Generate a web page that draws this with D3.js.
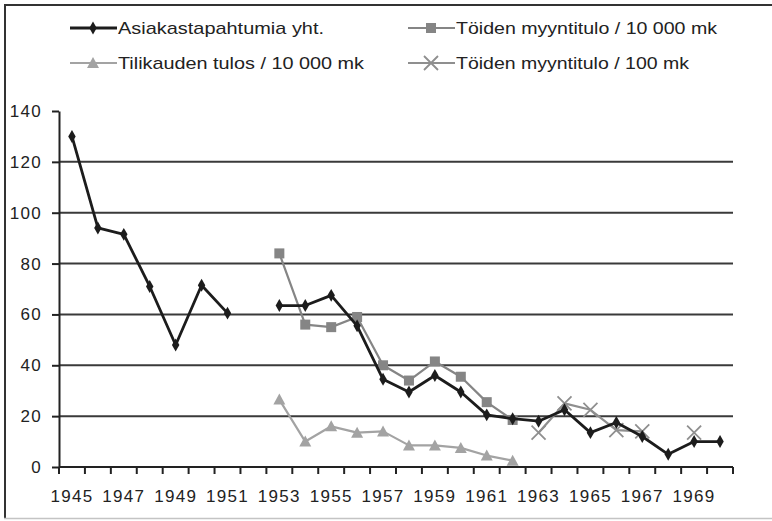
<!DOCTYPE html>
<html>
<head>
<meta charset="utf-8">
<script src="https://cdn.jsdelivr.net/npm/d3@7"></script>
<style>
    body { margin: 0; background: #ffffff; }
    svg { display: block; font-family: "Liberation Sans", Arial, sans-serif; }
</style>
</head>
<body>
<script>
/* ========================== Data ========================= */
var years = d3.range(1945, 1971);
var yearLabels = ["1945", "1947", "1949", "1951", "1953", "1955", "1957", "1959", "1961", "1963", "1965", "1967", "1969"];
var yTicks = [0, 20, 40, 60, 80, 100, 120, 140];

// one value per year, null = no value that year
var asiakastapahtumia = [130, 94, 91.5, 71, 48, 71.5, 60.5, null, 63.5, 63.5, 67.5, 55.5, 34.5, 29.5, 36, 29.5,
    20.5, 19, 18, 22.5, 13.5, 17.5, 12, 5, 10, 10];
var myyntitulo10000 = [null, null, null, null, null, null, null, null, 84, 56, 55, 59, 40, 34, 41.5, 35.5,
    25.5, 18.5, null, null, null, null, null, null, null, null];
var tilikaudenTulos = [null, null, null, null, null, null, null, null, 26.5, 10, 16, 13.5, 14, 8.5, 8.5, 7.5,
    4.5, 2.5, null, null, null, null, null, null, null, null];
var myyntitulo100 = [null, null, null, null, null, null, null, null, null, null, null, null, null, null, null, null,
    null, null, 13.5, 25, 22.5, 14.5, 14, null, 13.5, null];

var seriesNames = ["Asiakastapahtumia yht.", "Töiden myyntitulo / 10 000 mk", "Tilikauden tulos / 10 000 mk", "Töiden myyntitulo / 100 mk"];

/* ========= Constants ========= */
var w = 772;
var h = 521;
var axisColor = "#222222";
var gridColor = "#3a3a3a";
var textColor = "#222222";

var series = [
    {name: seriesNames[0], values: asiakastapahtumia, color: "#1c1c1c", width: 2.8, marker: "diamond", legendX: 70, legendY: 28, textLen: 206},
    {name: seriesNames[1], values: myyntitulo10000, color: "#858585", width: 2.2, marker: "square", legendX: 408, legendY: 28, textLen: 261},
    {name: seriesNames[2], values: tilikaudenTulos, color: "#a3a3a3", width: 2.2, marker: "triangle", legendX: 70, legendY: 63, textLen: 246},
    {name: seriesNames[3], values: myyntitulo100, color: "#8f8f8f", width: 2.2, marker: "cross", legendX: 408, legendY: 63, textLen: 233}
];

var svg = d3.select("body")
    .append("svg")
    .attr("width", w)
    .attr("height", h);

svg.append("rect")
    .attr("width", w)
    .attr("height", h)
    .attr("fill", "#ffffff");

// outer frame (right side is cut off in the original)
svg.append("line").attr("x1", 4).attr("x2", w).attr("y1", 5).attr("y2", 5)
    .attr("stroke", "#333333").attr("stroke-width", 2);
svg.append("line").attr("x1", 5).attr("x2", 5).attr("y1", 4).attr("y2", 518)
    .attr("stroke", "#333333").attr("stroke-width", 2);
svg.append("line").attr("x1", 4).attr("x2", w).attr("y1", 518.5).attr("y2", 518.5)
    .attr("stroke", "#c4c4c4").attr("stroke-width", 1.5);

/* ==================== Scales ======================== */
var xScale = d3.scaleBand()
    .domain(years)
    .range([59, 733]);
var yScale = d3.scaleLinear()
    .domain([0, 140])
    .range([467, 111]);

function xCenter(yr) {
    return xScale(yr) + xScale.bandwidth() / 2;
}

/* ==================== Grid and axes ======================== */
svg.append("g")
    .selectAll("line")
    .data(yTicks.filter(function (t) { return t > 0 && t < 140; }))
    .enter()
    .append("line")
    .attr("x1", 59)
    .attr("x2", 733)
    .attr("y1", function (d) { return yScale(d); })
    .attr("y2", function (d) { return yScale(d); })
    .attr("stroke", gridColor)
    .attr("stroke-width", 2);

var yAxis = svg.append("g")
    .attr("transform", "translate(59,0)")
    .call(d3.axisLeft(yScale).tickValues(yTicks).tickSize(7).tickSizeOuter(0).tickPadding(10));
yAxis.select(".domain").attr("stroke", axisColor).attr("stroke-width", 2);
yAxis.selectAll(".tick line").attr("stroke", axisColor).attr("stroke-width", 2);
yAxis.selectAll(".tick text")
    .attr("fill", textColor)
    .attr("font-size", "17px")
    .attr("letter-spacing", "1.3px")
    .attr("font-family", "Liberation Sans, Arial, sans-serif");

// x axis: tick marks on the category boundaries
var xAxis = svg.append("g")
    .attr("transform", "translate(0,467)");
xAxis.append("line")
    .attr("x1", 59)
    .attr("x2", 733)
    .attr("stroke", axisColor)
    .attr("stroke-width", 2);
xAxis.selectAll("line.tk")
    .data(years.concat([1971]))
    .enter()
    .append("line")
    .attr("class", "tk")
    .attr("x1", function (d) { return d > 1970 ? 733 : xScale(d); })
    .attr("x2", function (d) { return d > 1970 ? 733 : xScale(d); })
    .attr("y1", 0)
    .attr("y2", 7)
    .attr("stroke", axisColor)
    .attr("stroke-width", 2);
xAxis.selectAll("text")
    .data(yearLabels)
    .enter()
    .append("text")
    .attr("x", function (d) { return xCenter(+d); })
    .attr("y", 35)
    .attr("text-anchor", "middle")
    .attr("fill", textColor)
    .attr("font-size", "17px")
    .attr("letter-spacing", "1.3px")
    .text(function (d) { return d; });

/* ==================== Markers ======================== */
function drawMarker(g, type, x, y, color) {
    if (type == "diamond") {
        g.append("path")
            .attr("d", d3.symbol().type(d3.symbolDiamond).size(48)())
            .attr("transform", "translate(" + x + "," + y + ")")
            .attr("fill", color);
    } else if (type == "square") {
        g.append("rect")
            .attr("x", x - 5).attr("y", y - 5)
            .attr("width", 10).attr("height", 10)
            .attr("fill", color);
    } else if (type == "triangle") {
        g.append("path")
            .attr("d", "M" + x + "," + (y - 6) + "L" + (x + 6) + "," + (y + 5) + "L" + (x - 6) + "," + (y + 5) + "Z")
            .attr("fill", color);
    } else {
        g.append("path")
            .attr("d", "M" + (x - 7) + "," + (y - 7) + "L" + (x + 7) + "," + (y + 7) +
                "M" + (x + 7) + "," + (y - 7) + "L" + (x - 7) + "," + (y + 7))
            .attr("stroke", color)
            .attr("stroke-width", 1.8)
            .attr("fill", "none");
    }
}

/* ==================== Lines ======================== */
var drawOrder = [2, 3, 1, 0];
drawOrder.forEach(function (i) {
    var s = series[i];
    var pts = years.map(function (yr, k) { return {year: yr, v: s.values[k]}; });
    var line = d3.line()
        .defined(function (d) { return d.v != null; })
        .x(function (d) { return xCenter(d.year); })
        .y(function (d) { return yScale(d.v); });
    var g = svg.append("g");
    g.append("path")
        .datum(pts)
        .attr("fill", "none")
        .attr("stroke", s.color)
        .attr("stroke-width", s.width)
        .attr("stroke-linejoin", "round")
        .attr("d", line);
    pts.forEach(function (d) {
        if (d.v != null) {
            drawMarker(g, s.marker, xCenter(d.year), yScale(d.v), s.color);
        }
    });
});

/* ==================== Legend ======================== */
series.forEach(function (s) {
    var g = svg.append("g");
    g.append("line")
        .attr("x1", s.legendX)
        .attr("x2", s.legendX + 47)
        .attr("y1", s.legendY)
        .attr("y2", s.legendY)
        .attr("stroke", s.color)
        .attr("stroke-width", s.width);
    drawMarker(g, s.marker, s.legendX + 23, s.legendY, s.color);
    g.append("text")
        .attr("x", s.legendX + 48)
        .attr("y", s.legendY + 6)
        .attr("fill", textColor)
        .attr("font-size", "17px")
        .attr("textLength", s.textLen)
        .attr("lengthAdjust", "spacingAndGlyphs")
        .text(s.name);
});
</script>
</body>
</html>
